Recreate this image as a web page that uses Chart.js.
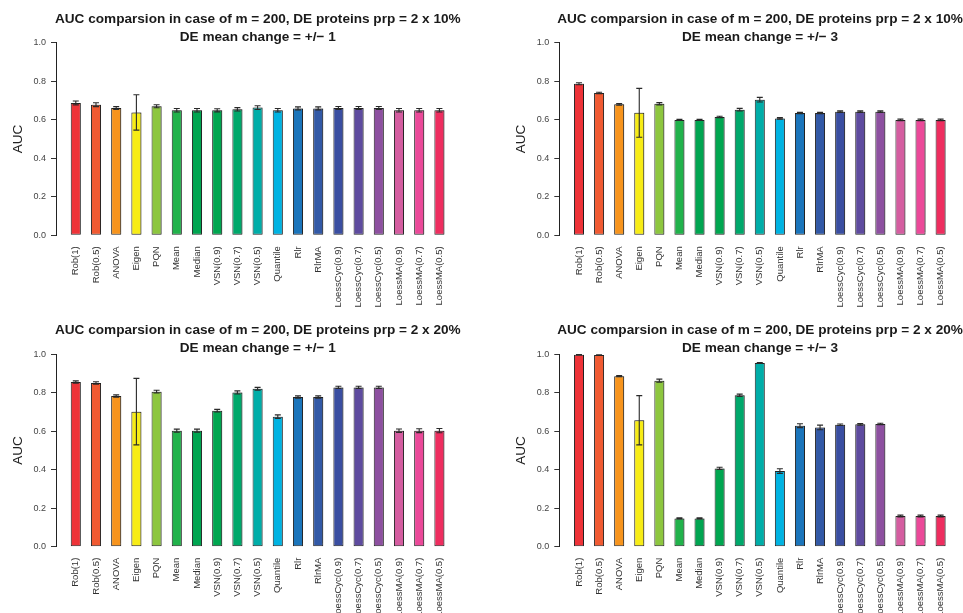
<!DOCTYPE html>
<html>
<head>
<meta charset="utf-8">
<script src="https://cdn.jsdelivr.net/npm/chart.js@4/dist/chart.umd.min.js"></script>
<style>
  html, body { margin: 0; padding: 0; background: #ffffff; overflow: hidden; }
  body { width: 963px; height: 613px; position: relative; }
  canvas { position: absolute; }
</style>
</head>
<body>
<canvas id="p1"></canvas>
<canvas id="p2"></canvas>
<canvas id="p3"></canvas>
<canvas id="p4"></canvas>
<script>
// Normalisation methods compared on the x axis
const methods = ['Rob(1)', 'Rob(0.5)', 'ANOVA', 'Eigen', 'PQN', 'Mean', 'Median',
  'VSN(0.9)', 'VSN(0.7)', 'VSN(0.5)', 'Quantile', 'Rlr', 'RlrMA',
  'LoessCyc(0.9)', 'LoessCyc(0.7)', 'LoessCyc(0.5)',
  'LoessMA(0.9)', 'LoessMA(0.7)', 'LoessMA(0.5)'];

// Mean AUC and its spread, m = 200, 2 x 10% DE proteins, mean change +/- 1
const auc10m1 = [0.687, 0.678, 0.661, 0.638, 0.670, 0.649, 0.649, 0.649, 0.654, 0.663,
  0.649, 0.659, 0.659, 0.661, 0.661, 0.661, 0.649, 0.649, 0.649];
const err10m1 = [0.010, 0.010, 0.007, 0.092, 0.008, 0.009, 0.009, 0.008, 0.009, 0.010,
  0.009, 0.008, 0.008, 0.008, 0.008, 0.008, 0.009, 0.009, 0.009];

// m = 200, 2 x 10% DE proteins, mean change +/- 3
const auc10m3 = [0.787, 0.739, 0.680, 0.636, 0.683, 0.599, 0.599, 0.614, 0.652, 0.704,
  0.607, 0.635, 0.635, 0.642, 0.642, 0.642, 0.599, 0.599, 0.599];
const err10m3 = [0.005, 0.004, 0.004, 0.127, 0.006, 0.003, 0.003, 0.004, 0.007, 0.012,
  0.004, 0.003, 0.003, 0.004, 0.004, 0.004, 0.004, 0.004, 0.004];

// m = 200, 2 x 20% DE proteins, mean change +/- 1
const auc20m1 = [0.856, 0.851, 0.783, 0.702, 0.806, 0.603, 0.603, 0.707, 0.802, 0.821,
  0.676, 0.778, 0.778, 0.828, 0.828, 0.828, 0.603, 0.603, 0.603];
const err20m1 = [0.006, 0.006, 0.006, 0.173, 0.007, 0.008, 0.008, 0.007, 0.008, 0.007,
  0.009, 0.006, 0.006, 0.006, 0.006, 0.006, 0.009, 0.010, 0.011];

// m = 200, 2 x 20% DE proteins, mean change +/- 3
const auc20m3 = [0.998, 0.997, 0.886, 0.657, 0.863, 0.147, 0.147, 0.407, 0.787, 0.955,
  0.393, 0.629, 0.620, 0.634, 0.636, 0.638, 0.159, 0.159, 0.159];
const err20m3 = [0.001, 0.001, 0.003, 0.128, 0.008, 0.003, 0.003, 0.006, 0.006, 0.002,
  0.012, 0.010, 0.012, 0.004, 0.004, 0.004, 0.005, 0.005, 0.005];

// Y axis tick values
const yTicks = [0.0, 0.2, 0.4, 0.6, 0.8, 1.0];

// One fill colour per method
const methodColors = ['#EE3338', '#F05A32', '#F7941D', '#F7EC16', '#8DC63F', '#21B24B',
  '#00A551', '#00A650', '#00A86B', '#00ADA8', '#00B3E2', '#1B75BB', '#3259A6',
  '#3A4EA1', '#5E4B9F', '#8D50A0', '#D45DA0', '#EB4999', '#EE2D5F'];

const titleTop10 = 'AUC comparsion in case of m = 200, DE proteins prp = 2 x 10%';
const titleTop20 = 'AUC comparsion in case of m = 200, DE proteins prp = 2 x 20%';
const titleSub1 = 'DE mean change = +/\u2212 1';
const titleSub3 = 'DE mean change = +/\u2212 3';

Chart.defaults.font.family = "'Liberation Sans', Arial, Helvetica, sans-serif";
Chart.defaults.color = '#333333';
Chart.defaults.animation = false;

// Draws a two-line bold heading centred over the plotting region
const headingPlugin = {
  id: 'heading',
  afterDraw(chart, args, opts) {
    const { ctx, chartArea } = chart;
    const cx = (chartArea.left + chartArea.right) / 2;
    ctx.save();
    ctx.fillStyle = '#1a1a1a';
    ctx.font = "bold 13.6px 'Liberation Sans', Arial, sans-serif";
    ctx.textAlign = 'center';
    ctx.textBaseline = 'alphabetic';
    opts.lines.forEach((line, i) => ctx.fillText(line, cx, opts.baselines[i]));
    ctx.restore();
  }
};

// Soft drop shadow under the bars, then error bars drawn from the sd arrays
const barDecorPlugin = {
  id: 'barDecor',
  beforeDatasetsDraw(chart) {
    const ctx = chart.ctx;
    ctx.save();
    ctx.shadowColor = 'rgba(0,0,0,0.28)';
    ctx.shadowBlur = 1.5;
    ctx.shadowOffsetX = 1.5;
    ctx.shadowOffsetY = -1;
  },
  afterDatasetsDraw(chart, args, opts) {
    const ctx = chart.ctx;
    ctx.restore();
    const yScale = chart.scales.y;
    const meta = chart.getDatasetMeta(0);
    const values = chart.data.datasets[0].data;
    ctx.save();
    ctx.strokeStyle = '#2a2a2a';
    ctx.lineWidth = 1.1;
    meta.data.forEach((bar, i) => {
      const v = values[i].y;
      const e = opts.errors[i];
      const top = yScale.getPixelForValue(v + e);
      const bot = yScale.getPixelForValue(v - e);
      const x = bar.x;
      const half = 3;
      ctx.beginPath();
      ctx.moveTo(x, top); ctx.lineTo(x, bot);
      ctx.moveTo(x - half, top); ctx.lineTo(x + half, top);
      ctx.moveTo(x - half, bot); ctx.lineTo(x + half, bot);
      ctx.stroke();
    });
    ctx.restore();
  }
};

function makePanel(id, box, values, errors, lines) {
  const canvas = document.getElementById(id);
  canvas.width = box.w;
  canvas.height = box.h;
  canvas.style.left = box.x + 'px';
  canvas.style.top = box.y + 'px';
  canvas.style.width = box.w + 'px';
  canvas.style.height = box.h + 'px';

  new Chart(canvas, {
    type: 'bar',
    data: {
      datasets: [{
        data: values.map((v, i) => ({ x: i + 1, y: v })),
        backgroundColor: methodColors,
        borderColor: '#262626',
        borderWidth: 1,
        borderSkipped: false,
        categoryPercentage: 1,
        barPercentage: 0.5
      }]
    },
    options: {
      responsive: false,
      layout: { padding: { left: 0, top: box.padTop, right: box.padRight, bottom: 0 } },
      plugins: {
        legend: { display: false },
        tooltip: { enabled: false },
        heading: { lines: lines, baselines: box.baselines },
        barDecor: { errors: errors }
      },
      scales: {
        x: {
          type: 'linear',
          offset: false,
          min: 0.02,
          max: 20,
          afterBuildTicks: (scale) => { scale.ticks = methods.map((m, i) => ({ value: i + 1 })); },
          afterFit: (scale) => { scale.height = box.xAxisH; },
          grid: { display: false, drawTicks: false, offset: false },
          border: { display: false },
          ticks: {
            autoSkip: false,
            minRotation: 90,
            maxRotation: 90,
            padding: 11,
            color: '#333333',
            font: { size: 9.5 },
            callback: (v, i) => methods[i]
          }
        },
        y: {
          min: 0,
          max: 1,
          afterBuildTicks: (scale) => { scale.ticks = yTicks.map(v => ({ value: v })); },
          afterFit: (scale) => { scale.width = box.yAxisW; },
          grid: { drawOnChartArea: false, drawTicks: true, tickLength: 5, color: '#333333', lineWidth: 1 },
          border: { display: true, color: '#222222', width: 1 },
          ticks: {
            padding: 5,
            color: '#444444',
            font: { size: 9 },
            callback: (v) => Number(v).toFixed(1)
          },
          title: {
            display: true,
            text: 'AUC',
            color: '#222222',
            font: { size: 13.5 },
            padding: { top: box.aucPad, bottom: 0 }
          }
        }
      }
    },
    plugins: [headingPlugin, barDecorPlugin]
  });
}

makePanel('p1', { x: 0, y: 0, w: 480, h: 310, padTop: 42.7, padRight: 20.4, yAxisW: 56, xAxisH: 74.7,
  aucPad: 10.4, baselines: [23, 40.5] }, auc10m1, err10m1, [titleTop10, titleSub1]);
makePanel('p2', { x: 480, y: 0, w: 483, h: 310, padTop: 42.7, padRight: 0.1, yAxisW: 79.3, xAxisH: 74.7,
  aucPad: 33.4, baselines: [23, 40.5] }, auc10m3, err10m3, [titleTop10, titleSub3]);
makePanel('p3', { x: 0, y: 310, w: 480, h: 303, padTop: 44.3, padRight: 20.4, yAxisW: 56, xAxisH: 66.3,
  aucPad: 10.4, baselines: [24, 41.5] }, auc20m1, err20m1, [titleTop20, titleSub1]);
makePanel('p4', { x: 480, y: 310, w: 483, h: 303, padTop: 44.3, padRight: 0.1, yAxisW: 79.3, xAxisH: 66.3,
  aucPad: 33.4, baselines: [24, 41.5] }, auc20m3, err20m3, [titleTop20, titleSub3]);
</script>
</body>
</html>
